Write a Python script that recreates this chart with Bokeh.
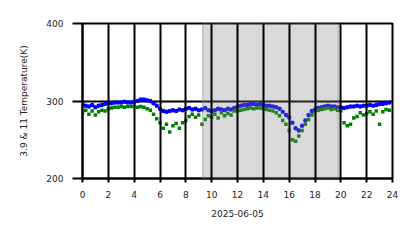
from bokeh.plotting import figure
from bokeh.models import BoxAnnotation, FixedTicker, Range1d
from bokeh.embed import file_html
from bokeh.resources import INLINE

hours = [i * 0.25 for i in range(96)]

temp_39 = [296, 294, 293, 295, 292, 294, 295, 296,
           297, 297, 298, 298, 298, 299, 298, 298,
           299, 300, 302, 302, 301, 300, 297, 294,
           290, 287, 286, 287, 288, 287, 289, 288,
           290, 291, 289, 290, 288, 289, 291, 288,
           287, 288, 290, 289, 288, 290, 289, 291,
           293, 294, 295, 295, 296, 296, 295, 296,
           295, 294, 294, 293, 292, 290, 286, 282,
           279, 272, 265, 262, 268, 275, 282, 287,
           289, 291, 292, 293, 294, 293, 293, 292,
           292, 291, 292, 293, 293, 294, 293, 294,
           294, 295, 294, 295, 296, 296, 297, 298]

temp_11 = [285, 288, 283, 287, 282, 286, 288, 287,
           290, 291, 292, 292, 293, 292, 293, 293,
           293, 292, 293, 292, 290, 288, 283, 277,
           272, 265, 270, 260, 268, 271, 265, 272,
           275, 280, 283, 279, 282, 270, 276, 281,
           279, 283, 278, 285, 281, 284, 282, 287,
           287, 288, 289, 290, 291, 290, 291, 291,
           290, 289, 288, 287, 285, 281, 275, 270,
           262, 250, 248, 255, 262, 270, 276, 282,
           285, 288, 289, 290, 291, 289, 290, 288,
           287, 272, 268, 270, 278, 280, 285, 282,
           284, 286, 283, 287, 270, 286, 289, 288]

x_ticks = [0, 2, 4, 6, 8, 10, 12, 14, 16, 18, 20, 22, 24]
y_ticks = [200, 300, 400]
shade_start = 9.3
shade_end = 19.8

p = figure(width=418, height=248, output_backend="svg", toolbar_location=None,
           x_range=Range1d(0, 24), y_range=Range1d(200, 400),
           min_border_left=82, min_border_right=26, min_border_top=23,
           min_border_bottom=70)
p.frame_width = 310
p.frame_height = 155
p.outline_line_color = "black"
p.outline_line_width = 2

p.scatter(hours, temp_39, marker="circle", size=4.5, color="blue", line_color=None)
p.scatter(hours, temp_11, marker="square", size=3.5, color="green", line_color=None)

box = BoxAnnotation(left=shade_start, right=shade_end, fill_color="gray",
                    fill_alpha=0.3, line_color="gray", line_alpha=0.4,
                    line_width=1.5, level="annotation")
p.add_layout(box)

font = "DejaVu Sans"
fs = "9px"

p.xaxis.ticker = FixedTicker(ticks=x_ticks)
p.yaxis.ticker = FixedTicker(ticks=y_ticks)
for ax in (p.xaxis[0], p.yaxis[0]):
    ax.minor_tick_line_color = None
    ax.major_tick_in = 0
    ax.major_tick_line_width = 2
    ax.major_tick_line_color = "black"
    ax.axis_line_color = "black"
    ax.axis_line_width = 2
    ax.major_label_text_font = font
    ax.major_label_text_font_size = fs
    ax.major_label_text_color = "#222222"
    ax.axis_label_text_font = font
    ax.axis_label_text_font_size = fs
    ax.axis_label_text_font_style = "normal"
    ax.axis_label_text_color = "#222222"

p.yaxis.major_tick_out = 10
p.yaxis.major_label_standoff = 9
p.yaxis.axis_label = "3.9 & 11 Temperature(K)"
p.yaxis.axis_label_standoff = 14

p.xaxis.major_tick_out = 4
p.xaxis.major_label_standoff = 8
p.xaxis.axis_label = "2025-06-05"
p.xaxis.axis_label_standoff = 9

p.xgrid.ticker = FixedTicker(ticks=x_ticks)
p.ygrid.ticker = FixedTicker(ticks=y_ticks)
for g in (p.xgrid[0], p.ygrid[0]):
    g.grid_line_color = "black"
    g.grid_line_width = 2
    g.grid_line_alpha = 1.0
p.xgrid.level = "overlay"

open("out.html", "w").write(file_html(p, INLINE))
